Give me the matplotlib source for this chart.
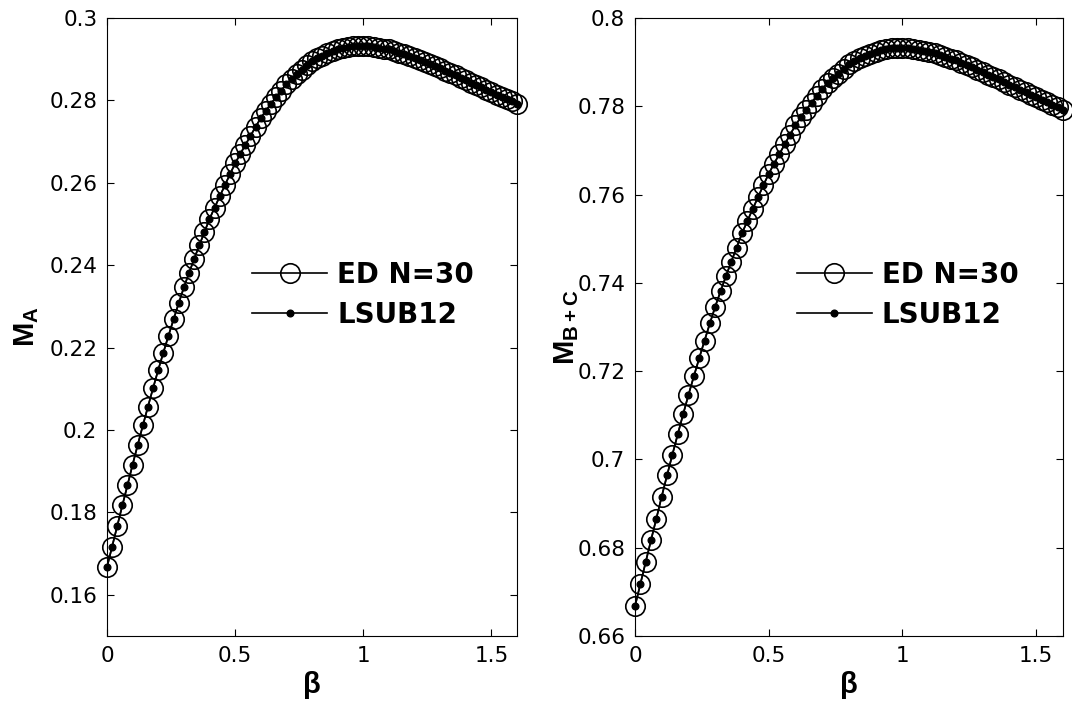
import matplotlib
matplotlib.use("Agg")
import matplotlib.pyplot as plt

# beta grid (step 0.02) and magnetisations
beta = [i / 50 for i in range(81)]

m_a = [
    0.1667, 0.1717, 0.1767, 0.1817, 0.1866, 0.1916, 0.1964, 0.2011, 0.2057, 0.2102,
    0.2146, 0.2188, 0.2229, 0.2269, 0.2308, 0.2346, 0.2381, 0.2415, 0.2448, 0.2480,
    0.2512, 0.2540, 0.2567, 0.2594, 0.2621, 0.2647, 0.2670, 0.2692, 0.2714, 0.2736,
    0.2757, 0.2775, 0.2792, 0.2808, 0.2824, 0.2840, 0.2852, 0.2863, 0.2874, 0.2885,
    0.2895, 0.2902, 0.2909, 0.2914, 0.2919, 0.2924, 0.2927, 0.2929, 0.2931, 0.2932,
    0.2932, 0.2932, 0.2930, 0.2928, 0.2926, 0.2924, 0.2920, 0.2916, 0.2912, 0.2908,
    0.2904, 0.2899, 0.2894, 0.2889, 0.2883, 0.2878, 0.2872, 0.2866, 0.2861, 0.2855,
    0.2849, 0.2843, 0.2838, 0.2832, 0.2826, 0.2820, 0.2814, 0.2809, 0.2803, 0.2798,
    0.2792,
]

m_bc = [
    0.6667, 0.6717, 0.6767, 0.6817, 0.6866, 0.6916, 0.6964, 0.7011, 0.7057, 0.7102,
    0.7146, 0.7188, 0.7229, 0.7269, 0.7308, 0.7346, 0.7381, 0.7415, 0.7448, 0.7480,
    0.7512, 0.7540, 0.7567, 0.7594, 0.7621, 0.7647, 0.7670, 0.7692, 0.7714, 0.7736,
    0.7757, 0.7775, 0.7792, 0.7808, 0.7824, 0.7840, 0.7852, 0.7863, 0.7874, 0.7885,
    0.7895, 0.7902, 0.7909, 0.7914, 0.7919, 0.7924, 0.7927, 0.7929, 0.7931, 0.7932,
    0.7932, 0.7932, 0.7930, 0.7928, 0.7926, 0.7924, 0.7920, 0.7916, 0.7912, 0.7908,
    0.7904, 0.7899, 0.7894, 0.7889, 0.7883, 0.7878, 0.7872, 0.7866, 0.7861, 0.7855,
    0.7849, 0.7843, 0.7838, 0.7832, 0.7826, 0.7820, 0.7814, 0.7809, 0.7803, 0.7798,
    0.7792,
]

yticks_a = [0.16, 0.18, 0.2, 0.22, 0.24, 0.26, 0.28, 0.3]
yticks_bc = [0.66, 0.68, 0.7, 0.72, 0.74, 0.76, 0.78, 0.8]
xticks = [0, 0.5, 1, 1.5]

plt.rcParams.update({
    "font.family": ["DejaVu Sans"],
    "mathtext.fontset": "custom",
    "mathtext.rm": "Liberation Sans",
    "mathtext.bf": "Liberation Sans:bold",
    "xtick.direction": "in",
    "ytick.direction": "in",
    "xtick.top": True,
    "ytick.right": True,
    "font.size": 15,
})

fig = plt.figure(figsize=(10.72, 7.15), dpi=100)
ax1 = fig.add_axes([0.0998, 0.1105, 0.3825, 0.8643])
ax2 = fig.add_axes([0.5923, 0.1105, 0.3993, 0.8643])


def panel(ax, y, ylim, yticks, ylabel, leg_x, ypad):
    ax.plot(beta, y, "-o", color="black", mfc="none", ms=14, mew=1.2, lw=1.2,
            label="ED N=30", clip_on=False, zorder=3)
    ax.plot(beta, y, "-o", color="black", ms=4.8, lw=1.2, label="LSUB12",
            clip_on=False, zorder=4)
    ax.set_xlim(0, 1.6)
    ax.set_ylim(*ylim)
    ax.set_xticks(xticks)
    ax.set_xticklabels(["0", "0.5", "1", "1.5"])
    ax.set_yticks(yticks)
    ax.set_yticklabels([f"{t:g}" for t in yticks])
    ax.tick_params(length=5, width=0.8, labelsize=15.5, pad=7)
    for s in ax.spines.values():
        s.set_linewidth(0.8)
    ax.set_xlabel("β", fontsize=21, fontweight="bold", labelpad=4,
                  family="Liberation Sans")
    ax.set_ylabel(ylabel, fontsize=21, labelpad=ypad)
    ax.legend(loc="center left", bbox_to_anchor=(leg_x, 0.552), frameon=False,
              prop={"weight": "bold", "size": 20}, borderpad=0, borderaxespad=0,
              handlelength=2.7, handletextpad=0.36, labelspacing=0.45)


panel(ax1, m_a, (0.15, 0.3), yticks_a, r"$\mathbf{M_{A}}$", 0.354, 6)
panel(ax2, m_bc, (0.66, 0.8), yticks_bc, r"$\mathbf{M_{B+C}}$", 0.3785, -3)

fig.savefig("out.png", dpi=100)
